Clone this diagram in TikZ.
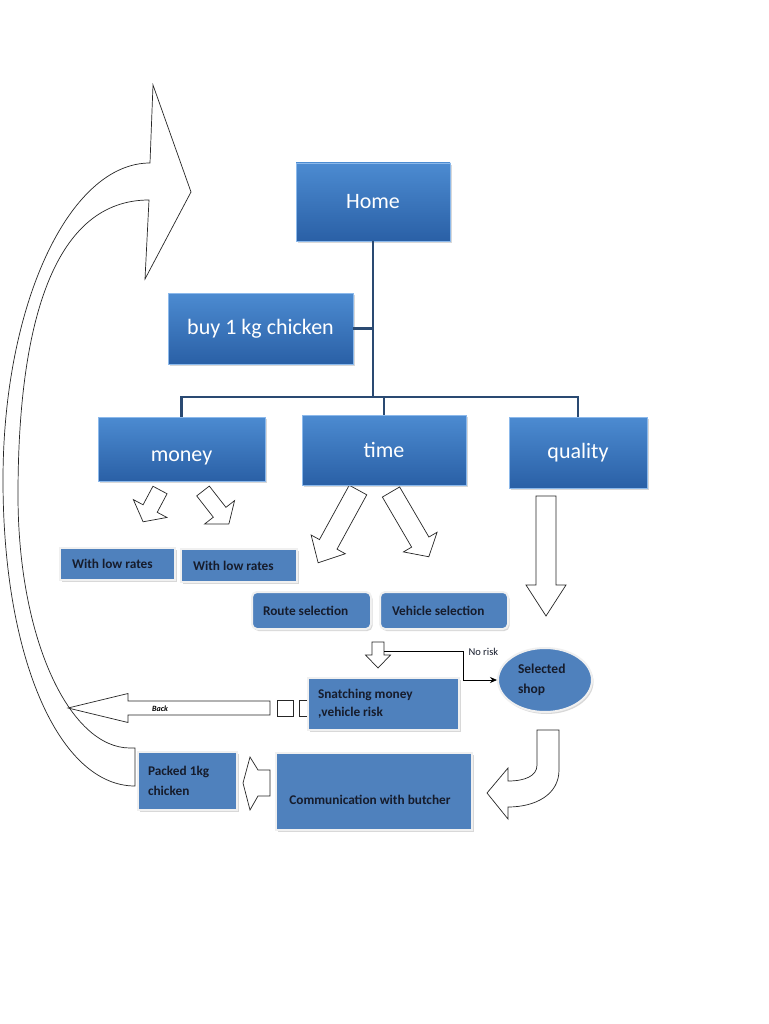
\documentclass[tikz,border=0pt]{standalone}
\usepackage{fontspec}
\setmainfont{Carlito}
\usetikzlibrary{arrows.meta, positioning, shapes.geometric, shadows}
\definecolor{boxtop}{RGB}{76,139,209}
\definecolor{boxbot}{RGB}{42,96,166}
\definecolor{boxedge}{RGB}{140,185,235}
\definecolor{flatblue}{RGB}{79,129,189}
\definecolor{linkblue}{RGB}{42,74,114}
\definecolor{textdark}{RGB}{22,28,44}

\begin{document}
\begin{tikzpicture}[x=1pt, y=-1pt,
        bigbox/.style={rectangle, draw=boxedge, line width=0.8pt,
                       top color=boxtop, bottom color=boxbot, text=white,
                       font=\fontsize{22}{26}\selectfont,
                       drop shadow={shadow xshift=2pt, shadow yshift=-2pt, opacity=0.3}},
        bigtext/.style={text=white, font=\fontsize{22}{26}\selectfont},
        flatbox/.style={rectangle, draw=white!88!gray, line width=2pt, fill=flatblue,
                        text=textdark, align=flush left,
                        font=\bfseries\fontsize{13.3}{18}\selectfont,
                        drop shadow={shadow xshift=1.5pt, shadow yshift=-2pt, opacity=0.3}},
        blockarrow/.style={draw=black!85, line width=0.7pt, line join=miter},
        link/.style={draw=linkblue, line width=2.5pt}]
      \fill[white] (0,0) rectangle (768,1024);
      \useasboundingbox (0,0) rectangle (768,1024);

      % hollow arrows
      \draw[blockarrow, shift={(546,496)}, rotate=-90]
        (0,-10) -- (89,-10) -- (89,-20) -- (120,0) -- (89,20) -- (89,10) -- (0,10) -- cycle;
      \draw[blockarrow, shift={(378,642)}, rotate=-90]
        (0,-6) -- (13,-6) -- (13,-12.5) -- (26,0) -- (13,12.5) -- (13,6) -- (0,6) -- cycle;
      \draw[blockarrow, shift={(358,490)}, rotate=-118.7]
        (0,-10) -- (62,-10) -- (62,-19.5) -- (83,0) -- (62,19.5) -- (62,10) -- (0,10) -- cycle;
      \draw[blockarrow, shift={(391,492)}, rotate=-59.7]
        (0,-10) -- (58,-10) -- (58,-19.5) -- (75,0) -- (58,19.5) -- (58,10) -- (0,10) -- cycle;
      \draw[blockarrow, shift={(160,490)}, rotate=-118]
        (0,-8) -- (21,-8) -- (21,-19) -- (36,0) -- (21,19) -- (21,8) -- (0,8) -- cycle;
      \draw[blockarrow, shift={(203,491)}, rotate=-52]
        (0,-8) -- (27,-8) -- (27,-19) -- (42,0) -- (27,19) -- (27,8) -- (0,8) -- cycle;
      \draw[blockarrow, shift={(270,708)}, rotate=180]
        (0,-7) -- (142,-7) -- (142,-14.5) -- (202,0) -- (142,14.5) -- (142,7) -- (0,7) -- cycle;
      \draw[blockarrow] (270,770) -- (258,770) -- (250,757) -- (243,783)
        -- (250,810) -- (258,796) -- (270,796) -- cycle;
      \draw[blockarrow] (537,730) -- (559,730) -- (559,770)
        .. controls (559,795) and (535,807) .. (508,807) -- (508,819) -- (487,793)
        -- (508,768) -- (508,781) .. controls (525,781) and (537,776) .. (537,765) -- cycle;
      \draw[blockarrow] (277,700) rectangle (293,716);
      \draw[blockarrow] (299,700) rectangle (312,716);
      % big return arrow
      \draw[blockarrow] (135,786) .. controls (60,786) and (3,660) .. (3,480)
        .. controls (3,305) and (69,163) .. (150,163) -- (153,85) -- (191,192)
        -- (145,279) -- (149,200) .. controls (55,200) and (18,320) .. (18,495)
        .. controls (18,640) and (70,748) .. (130,748) -- (135,748) -- cycle;
      \node[font=\bfseries\itshape\fontsize{8}{10}\selectfont] (backlabel) at (160,709) {Back};

      % tree
      \node[bigbox, minimum width=154pt, minimum height=78pt] (home) at (373,202) {Home};
      \node[bigbox, minimum width=185pt, minimum height=71pt] (buy) at (260.5,328.5) {buy 1 kg chicken};
      \node[bigbox, minimum width=167pt, minimum height=64pt] (money) at (181.5,449) {};
      \node[bigtext] (moneytext) at (181.5,458) {money};
      \node[bigbox, minimum width=164pt, minimum height=70pt] (time) at (384,450) {time};
      \node[bigbox, minimum width=138pt, minimum height=71pt] (quality) at (578,452.5) {quality};
      \coordinate (bar) at (373,397);
      \draw[link] (home.south) -- (bar);
      \draw[link] (buy.east) -- (buy.east -| bar);
      \draw[link] (bar) -| (money.north);
      \draw[link] (bar) -| (time.north);
      \draw[link] (bar) -| (quality.north);

      % flat boxes
      \node[flatbox, minimum width=115pt, minimum height=32pt, text width=91pt, inner xsep=12pt]
        (lowa) at (117.5,564) {With low rates};
      \node[flatbox, minimum width=116pt, minimum height=33pt, text width=92pt, inner xsep=12pt]
        (lowb) at (239,565.5) {With low rates};
      \node[flatbox, rounded corners=5pt, minimum width=119pt, minimum height=37pt, text width=97pt, inner xsep=11pt]
        (route) at (311.5,610.5) {Route selection};
      \node[flatbox, rounded corners=5pt, minimum width=128pt, minimum height=37pt, text width=104pt, inner xsep=12pt]
        (vehicle) at (444,610.5) {Vehicle selection};
      \node[flatbox, minimum width=151pt, minimum height=52pt, text width=131pt, inner xsep=10pt]
        (snatch) at (383.5,704) {Snatching money\\,vehicle risk};
      \node[flatbox, ellipse, minimum width=94pt, minimum height=64pt, text width=54pt, inner sep=0pt,
        font=\bfseries\fontsize{13.5}{20}\selectfont] (shop) at (545,680) {Selected\\shop};
      \node[flatbox, minimum width=196pt, minimum height=77pt] (comm) at (374,791.5) {};
      \node[text=textdark, font=\bfseries\fontsize{13.3}{18}\selectfont] (commtext) at (370,800)
        {Communication with butcher};
      \node[flatbox, minimum width=99pt, minimum height=58pt, text width=79pt, inner xsep=10pt,
        font=\bfseries\fontsize{13.3}{20}\selectfont] (packed) at (187.5,781) {Packed 1kg\\chicken};

      % no risk path
      \coordinate (riskstart) at (384,651);
      \coordinate (riskturn) at (463,651);
      \draw[-{Stealth[length=7pt,width=6pt]}, line width=0.8pt] (riskstart) -- (riskturn) |- (shop.west);
      \node[anchor=west, text=textdark, font=\fontsize{10.5}{12}\selectfont] (norisk) at (465,652) {No risk};
    \end{tikzpicture}
\end{document}
